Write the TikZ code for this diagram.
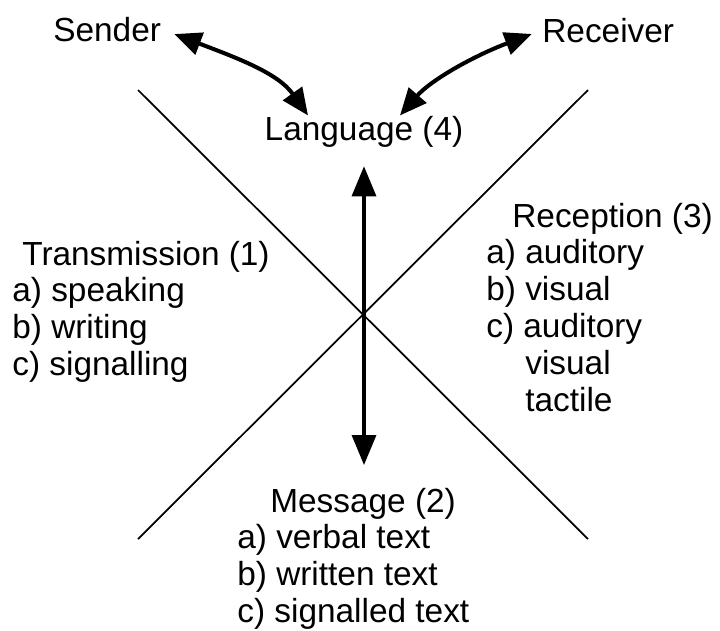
\documentclass[tikz,border=0pt]{standalone}
\usepackage{fontspec}
\setmainfont{Liberation Sans}
\usetikzlibrary{arrows.meta}

\begin{document}
\begin{tikzpicture}[x=0.02cm,y=-0.02cm,
    txt/.style={inner sep=0pt,font=\fontsize{19}{21}\selectfont},
    block/.style={txt,align=left,anchor=north west},
    cross/.style={line width=1pt},
    bent/.style={line width=2.3pt,{Triangle[length=0.54cm,width=0.46cm]}-{Triangle[length=0.54cm,width=0.46cm]}},
    straight/.style={line width=1.9pt,{Triangle[length=0.6cm,width=0.48cm]}-{Triangle[length=0.6cm,width=0.48cm]}}]
  \useasboundingbox (0,0) rectangle (720,630);

  % the two crossing lines
  \coordinate (tl) at (138,90);
  \coordinate (tr) at (588,90);
  \coordinate (bl) at (138,539);
  \coordinate (br) at (588,539);
  \draw[cross] (tl) -- (br);
  \draw[cross] (tr) -- (bl);

  \node[txt,anchor=base west] (sender) at (53,41) {Sender};
  \node[txt,anchor=base west] (receiver) at (542,42) {Receiver};
  \node[txt,anchor=base] (language) at (364,140) {Language (4)};

  \node[block] (transmission) at (12,240.5) {\hspace*{0.2cm}Transmission (1)\\a) speaking\\b) writing\\c) signalling};
  \node[block] (reception) at (486,202.5) {\hspace*{0.52cm}Reception (3)\\a) auditory\\b) visual\\c) auditory\\\hspace*{0.78cm}visual\\\hspace*{0.78cm}tactile};
  \node[block] (message) at (237,487.5) {\hspace*{0.66cm}Message (2)\\a) verbal text\\b) written text\\c) signalled text};

  \draw[bent,shorten <=0.28cm] (sender.east) .. controls (237,58) and (278,73) .. ([xshift=-1.12cm]language.north);
  \draw[bent,shorten <=0.22cm] (receiver.west) .. controls (471,57) and (430,81) .. ([xshift=0.72cm]language.north);
  \draw[straight,shorten <=0.38cm,shorten >=0.45cm] (language.south) -- (language.south |- message.north);
\end{tikzpicture}
\end{document}
